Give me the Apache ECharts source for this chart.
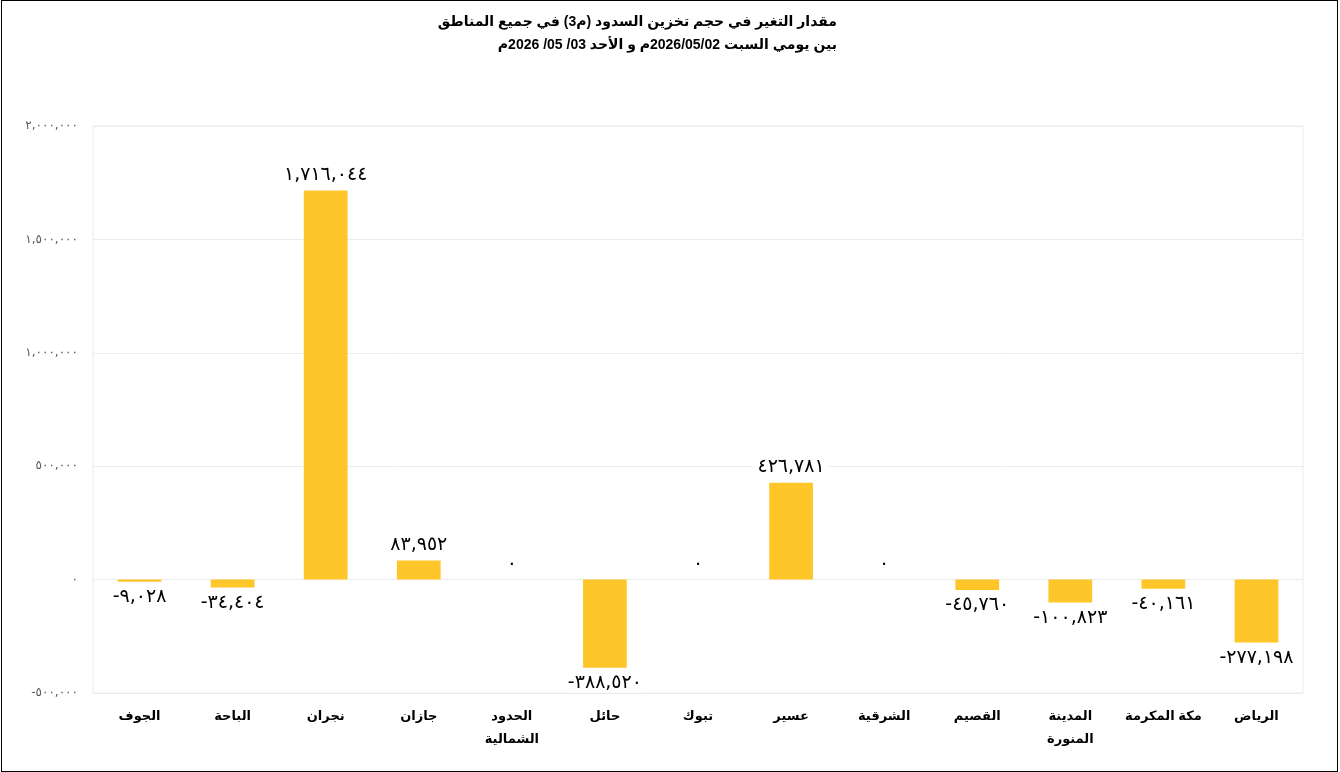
<!DOCTYPE html>
<html>
<head>
<meta charset="utf-8">
<script src="https://cdn.jsdelivr.net/npm/echarts@6/dist/echarts.min.js"></script>
<style>
  html, body { margin: 0; padding: 0; background: #fff; }
  #chart { position: absolute; left: 0; top: 0; width: 1340px; height: 772px; }
  #frame { position: absolute; left: 1px; top: 0; width: 1337px; height: 772px; border: 1.5px solid #000; box-sizing: border-box; pointer-events: none; }
</style>
</head>
<body>
<div id="chart"></div>
<div id="frame"></div>
<script>
const titleLine1 = 'مقدار التغير في حجم تخزين السدود (م3) في جميع المناطق';
const titleLine2 = 'بين يومي السبت 2026/05/02م و الأحد 03/ 05/ 2026م';
const categories = ['الجوف', 'الباحة', 'نجران', 'جازان', 'الحدود\nالشمالية', 'حائل', 'تبوك', 'عسير', 'الشرقية', 'القصيم', 'المدينة\nالمنورة', 'مكة المكرمة', 'الرياض'];
const changeValues = [-9028, -34404, 1716044, 83952, 0, -388520, 0, 426781, 0, -45760, -100823, -40161, -277198];
const yMin = -500000, yMax = 2000000, yInterval = 500000;

const arDigits = ['٠','١','٢','٣','٤','٥','٦','٧','٨','٩'];
function toArabicNum(v) {
  const neg = v < 0;
  const s = Math.abs(Math.round(v)).toString().replace(/\B(?=(\d{3})+(?!\d))/g, ',');
  const ar = s.replace(/\d/g, d => arDigits[+d]);
  return (neg ? '-' : '') + ar;
}

const chart = echarts.init(document.getElementById('chart'));
const seriesData = changeValues.map(v => ({
  value: v,
  label: { position: v < 0 ? 'bottom' : 'top' }
}));

const titleFont = 'bold 14px Arial, "Liberation Sans", "DejaVu Sans", sans-serif';

chart.setOption({
  backgroundColor: '#fff',
  animation: false,
  graphic: [
    { type: 'text', right: 503, top: 15, style: { text: titleLine1, font: titleFont, fill: '#000' } },
    { type: 'text', right: 503, top: 38, style: { text: titleLine2, font: titleFont, fill: '#000' } }
  ],
  grid: {
    left: 93, right: 37, top: 126, bottom: 79,
    show: true, borderColor: '#ebebeb', borderWidth: 1
  },
  xAxis: {
    type: 'category',
    data: categories,
    axisLine: { show: false, onZero: false },
    axisTick: { show: false },
    axisLabel: {
      interval: 0,
      margin: 12,
      color: '#000',
      fontWeight: 'bold',
      fontSize: 13,
      lineHeight: 23,
      fontFamily: 'Arial, "Liberation Sans", "DejaVu Sans", sans-serif'
    },
    splitLine: { show: false }
  },
  yAxis: {
    type: 'value',
    min: yMin, max: yMax, interval: yInterval,
    axisLine: { show: false },
    axisTick: { show: false },
    axisLabel: {
      margin: 15,
      color: '#595959',
      fontSize: 12,
      fontFamily: '"DejaVu Sans", sans-serif',
      formatter: v => toArabicNum(v)
    },
    splitLine: { lineStyle: { color: '#ebebeb', width: 1 } }
  },
  series: [{
    type: 'bar',
    data: seriesData,
    barWidth: '47%',
    itemStyle: { color: '#FFC629' },
    label: {
      show: true,
      distance: 6,
      color: '#000',
      fontSize: 19,
      fontFamily: '"DejaVu Sans", sans-serif',
      backgroundColor: '#fff',
      padding: [0, 4],
      formatter: p => toArabicNum(p.value)
    }
  }]
});
</script>
</body>
</html>
